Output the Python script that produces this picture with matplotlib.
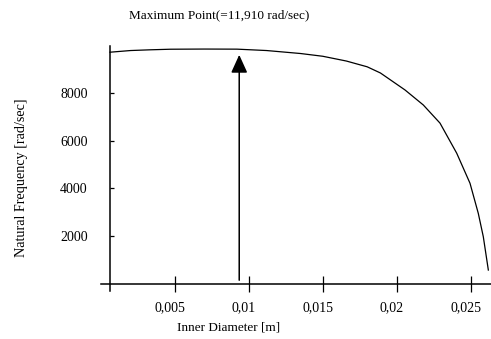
import matplotlib
matplotlib.use("Agg")
import matplotlib.pyplot as plt
import matplotlib.transforms as mtransforms

plt.rcParams['font.family'] = ['Liberation Serif', 'DejaVu Serif']

# Data
inner_diameter = [0.00061, 0.0020, 0.0033, 0.0047, 0.0070, 0.0092, 0.0112,
                  0.0135, 0.0150, 0.0166, 0.0175, 0.0180, 0.0189, 0.02056, 0.0218,
                  0.02293, 0.02406, 0.02496, 0.02552, 0.02586, 0.0262]
natural_freq = [9700, 9770, 9800, 9825, 9832, 9828, 9770,
                9645, 9530, 9330, 9175, 9090, 8830, 8120, 7490,
                6730, 5470, 4210, 2950, 1970, 575]

arrow_x = 0.00935
arrow_y_start = 150
arrow_y_end = 9590

x_ticks = [0.005, 0.01, 0.015, 0.02, 0.025]
x_tick_labels = ["0,005", "0,01", "0,015", "0,02", "0,025"]
y_ticks = [2000, 4000, 6000, 8000]
y_tick_labels = ["2000", "4000", "6000", "8000"]

title_text = "Maximum Point(=11,910 rad/sec)"
xlabel_text = "Inner Diameter [m]"
ylabel_text = "Natural Frequency [rad/sec]"

W, H = 491, 339
fig = plt.figure(figsize=(W / 100, H / 100), dpi=100)
ax = fig.add_axes([101 / W, 48.3 / H, (491 - 101) / W, (290.7 - 46) / H])

ax.plot(inner_diameter, natural_freq, color='black', lw=0.9,
        solid_joinstyle='round')

ax.annotate('', xy=(arrow_x, arrow_y_end), xytext=(arrow_x, arrow_y_start),
            arrowprops=dict(arrowstyle='-|>,head_length=1.1,head_width=0.5',
                            color='black', lw=1.1, shrinkA=0, shrinkB=0))

ax.set_xlim(0, 0.02638)
ax.set_ylim(-290, 9960)

for s in ['top', 'right']:
    ax.spines[s].set_visible(False)
ax.spines['bottom'].set_position(('data', 0))
ax.spines['left'].set_position(('data', 0.00061))
ax.spines['bottom'].set_linewidth(1.1)
ax.spines['left'].set_linewidth(1.1)

ax.set_xticks(x_ticks)
ax.set_xticklabels(x_tick_labels)
ax.set_yticks(y_ticks)
ax.set_yticklabels(y_tick_labels)
ax.tick_params(axis='x', direction='inout', length=11, width=0.9, pad=7, labelsize=10)
ax.tick_params(axis='y', direction='in', length=3, width=0.9, pad=16, labelsize=10)

offset = mtransforms.ScaledTranslation(-5 / 100, 0, fig.dpi_scale_trans)
for lbl in ax.get_xticklabels():
    lbl.set_transform(lbl.get_transform() + offset)

fig.text(219 / W, 1 - 15 / H, title_text, ha='center', va='center', fontsize=9.5)
fig.text(229 / W, 1 - 328 / H, xlabel_text, ha='center', va='center', fontsize=9.5)
fig.text(22 / W, 1 - 178 / H, ylabel_text, ha='center', va='center', fontsize=10.2,
         rotation=90)

fig.savefig('out.png', dpi=100)
